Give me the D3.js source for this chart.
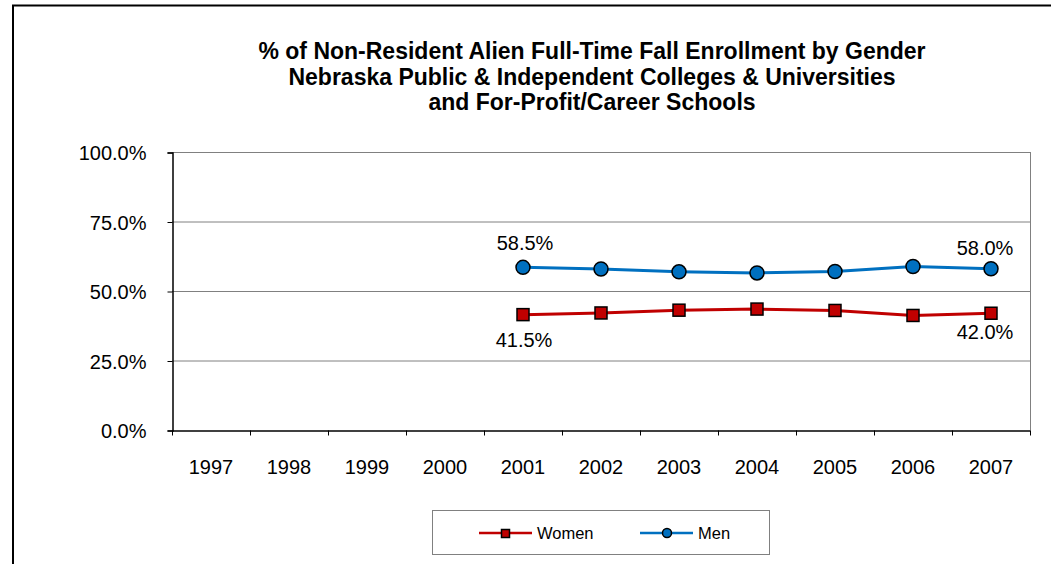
<!DOCTYPE html>
<html><head><meta charset="utf-8">
<script src="https://cdn.jsdelivr.net/npm/d3@7"></script>
<style>body{margin:0;background:#fff}svg{display:block;font-family:"Liberation Sans",Arial,sans-serif}</style>
</head><body><svg id="c" width="1051" height="564"></svg>
<script>
const years = ["1997","1998","1999","2000","2001","2002","2003","2004","2005","2006","2007"];
const dataYears = ["2001","2002","2003","2004","2005","2006","2007"];
const women = [41.5, 42.1, 43.1, 43.5, 43.0, 41.2, 42.0];
const men = [58.5, 57.9, 56.9, 56.5, 57.0, 58.8, 58.0];
const yTicks = [0, 25, 50, 75, 100];
const titleLines = ["% of Non-Resident Alien Full-Time Fall Enrollment by Gender","Nebraska Public & Independent Colleges & Universities","and For-Profit/Career Schools"];

const svg = d3.select("#c");
const FF = "Liberation Sans, Arial, sans-serif";
// outer frame
svg.append("rect").attr("x",13).attr("y",5.5).attr("width",1100).attr("height",700)
  .attr("fill","none").attr("stroke","#000").attr("stroke-width",2);

const L=172, R=1030, T=152, B=430;
const x = d3.scaleBand().domain(years).range([L,R]);
const y = d3.scaleLinear().domain([0,100]).range([B,T]);

svg.append("g").selectAll("text").data(titleLines).join("text")
  .attr("x",592).attr("y",(d,i)=>59+i*25.5).attr("text-anchor","middle")
  .attr("font-weight","bold").attr("font-size",23).attr("fill","#000").text(d=>d);

// gridlines
svg.append("g").selectAll("line").data(yTicks.filter(d=>d>0)).join("line")
  .attr("x1",L).attr("x2",R).attr("y1",d=>y(d)+0.5).attr("y2",d=>y(d)+0.5)
  .attr("stroke","#808080").attr("stroke-width",1);
svg.append("line").attr("x1",R+0.5).attr("x2",R+0.5).attr("y1",T).attr("y2",B)
  .attr("stroke","#808080");

// y axis
const ya = svg.append("g").attr("transform",`translate(${L+0.5},0.5)`)
  .call(d3.axisLeft(y).tickValues(yTicks).tickSize(5).tickPadding(6).tickFormat(d=>d.toFixed(1)+"%"));
ya.select(".domain").attr("stroke","#000").attr("stroke-width",1.5);
ya.selectAll(".tick line").attr("stroke","#000");
ya.selectAll("text").attr("font-size",20).attr("fill","#000").attr("font-family",FF).attr("dx",-15).attr("dy","0.35em");

// x axis
const xa = svg.append("g").attr("transform",`translate(0,${B+0.5})`)
  .call(d3.axisBottom(x).tickSize(0).tickPadding(0));
xa.select(".domain").attr("stroke","#000").attr("stroke-width",1.5);
xa.selectAll("text").attr("font-size",20).attr("fill","#000").attr("font-family",FF).attr("y",43).attr("dy",0);
xa.append("g").selectAll("line").data(years.concat(["end"])).join("line")
  .attr("x1",(d,i)=>L+i*x.step()+0.5).attr("x2",(d,i)=>L+i*x.step()+0.5)
  .attr("y1",0).attr("y2",5).attr("stroke","#000");

const cx = d => x(d)+x.bandwidth()/2;
const line = d3.line().x(d=>cx(d[0])).y(d=>y(d[1]));
const wd = dataYears.map((d,i)=>[d,women[i]]);
const md = dataYears.map((d,i)=>[d,men[i]]);

svg.append("path").datum(wd).attr("d",line).attr("fill","none").attr("stroke","#C00000").attr("stroke-width",3);
svg.append("path").datum(md).attr("d",line).attr("fill","none").attr("stroke","#0070C0").attr("stroke-width",3);

svg.append("g").selectAll("rect").data(wd).join("rect")
  .attr("x",d=>cx(d[0])-6).attr("y",d=>y(d[1])-6).attr("width",12).attr("height",12)
  .attr("fill","#C00000").attr("stroke","#000").attr("stroke-width",1.5);
svg.append("g").selectAll("circle").data(md).join("circle")
  .attr("cx",d=>cx(d[0])).attr("cy",d=>y(d[1])).attr("r",7)
  .attr("fill","#0070C0").attr("stroke","#000").attr("stroke-width",1.5);

// data labels (first and last)
const fmt = v=>v.toFixed(1)+"%";
const labs = [[md[0],2,-17],[md[md.length-1],-6,-14],[wd[0],1,32],[wd[wd.length-1],-6,26]];
labs.forEach(([d,dx,dy])=>{
  svg.append("text").attr("x",cx(d[0])+dx).attr("y",y(d[1])+dy).attr("text-anchor","middle")
    .attr("font-size",20).attr("fill","#000").text(fmt(d[1]));
});

// legend
const lg = svg.append("g");
lg.append("rect").attr("x",432.5).attr("y",510.5).attr("width",337).attr("height",44)
  .attr("fill","#fff").attr("stroke","#808080");
const items=[{n:"Women",c:"#C00000",s:"sq",x:479},{n:"Men",c:"#0070C0",s:"ci",x:640}];
items.forEach(it=>{
  lg.append("line").attr("x1",it.x).attr("x2",it.x+53).attr("y1",533).attr("y2",533).attr("stroke",it.c).attr("stroke-width",2.5);
  if(it.s==="sq") lg.append("rect").attr("x",it.x+22.5).attr("y",529.5).attr("width",8).attr("height",8).attr("fill",it.c).attr("stroke","#000").attr("stroke-width",1.5);
  else lg.append("circle").attr("cx",it.x+27).attr("cy",533).attr("r",4.5).attr("fill",it.c).attr("stroke","#000").attr("stroke-width",1.5);
  lg.append("text").attr("x",it.x+58).attr("y",539).attr("font-size",16.5).attr("fill","#000").text(it.n);
});
</script></body></html>
